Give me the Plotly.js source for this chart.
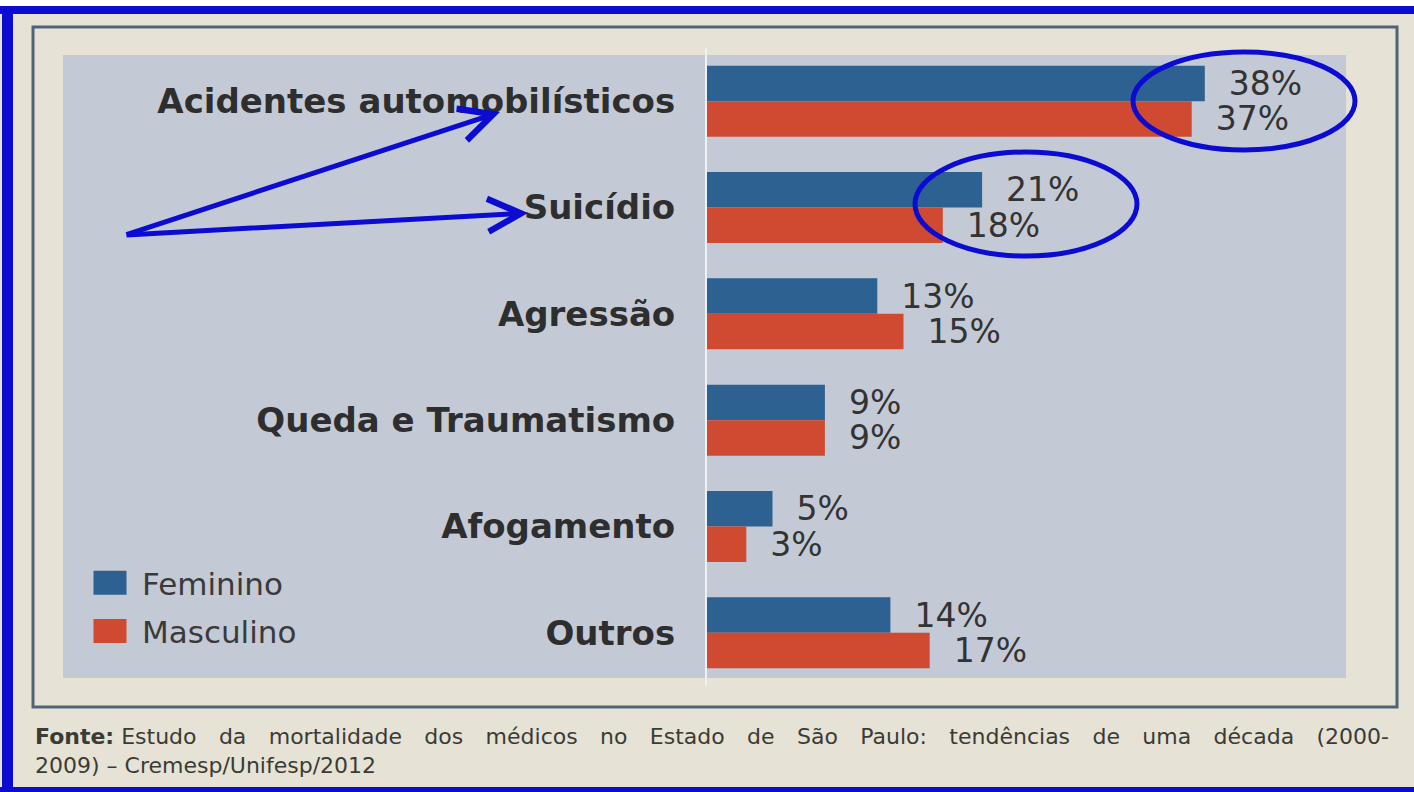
<!DOCTYPE html>
<html>
<head>
<meta charset="utf-8">
<script src="https://cdn.plot.ly/plotly-3.0.1.min.js"></script>
<style>
  html, body { margin: 0; padding: 0; background: #ffffff; }
  #chart { width: 1414px; height: 792px; }
</style>
</head>
<body>
<div id="chart"></div>
<script>
// ---- data ----
const categories = ['Acidentes automobilísticos', 'Suicídio', 'Agressão', 'Queda e Traumatismo', 'Afogamento', 'Outros'];
const feminino = [38, 21, 13, 9, 5, 14];
const masculino = [37, 18, 15, 9, 3, 17];
const seriesNames = ['Feminino', 'Masculino'];
const sourceBold = 'Fonte:';
const sourceLine1 = 'Estudo da mortalidade dos médicos no Estado de São Paulo: tendências de uma década (2000-';
const sourceLine2 = '2009) – Cremesp/Unifesp/2012';

// ---- geometry helpers (pixel -> paper) ----
const W = 1414, H = 792;
const PL = 707, PR = 1345, PT = 48, PB = 686;
const pw = PR - PL, ph = PB - PT;
const px = X => (X - PL) / pw;
const py = Y => (PB - Y) / ph;

const BLUE = '#2d6192';
const RED = '#d04a31';
const MARK = '#0b0bd2';
const FONT = 'DejaVu Sans';
// justified first line: widen word gaps
const GAP = ' \u2002\u2009';

const traces = [
  { type: 'bar', orientation: 'h', name: seriesNames[0], legendgroup: 'f', y: categories, x: feminino,
    marker: { color: BLUE }, texttemplate: '\u00a0\u00a0%{x}%', textposition: 'outside',
    constraintext: 'none', cliponaxis: false,
    textfont: { family: FONT, size: 33, color: '#333333' }, hoverinfo: 'skip' },
  { type: 'bar', orientation: 'h', name: seriesNames[1], legendgroup: 'm', y: categories, x: masculino,
    marker: { color: RED }, texttemplate: '\u00a0\u00a0%{x}%', textposition: 'outside',
    constraintext: 'none', cliponaxis: false,
    textfont: { family: FONT, size: 33, color: '#333333' }, hoverinfo: 'skip' }
];

const shapes = [
  { type: 'rect', xref: 'paper', yref: 'paper', x0: px(0), x1: px(W), y0: py(0), y1: py(6),
    fillcolor: '#ffffff', line: { width: 0 }, layer: 'below' },
  { type: 'rect', xref: 'paper', yref: 'paper', x0: px(63), x1: px(1346), y0: py(55), y1: py(678),
    fillcolor: '#c4cad5', line: { width: 0 }, layer: 'below' },
  { type: 'rect', xref: 'paper', yref: 'paper', x0: px(33), x1: px(1397), y0: py(27), y1: py(707),
    fillcolor: 'rgba(0,0,0,0)', line: { color: '#4f6475', width: 3 }, layer: 'below' },
  { type: 'rect', xref: 'paper', yref: 'paper', x0: px(0), x1: px(W), y0: py(6), y1: py(14),
    fillcolor: MARK, line: { width: 0 }, layer: 'above' },
  { type: 'rect', xref: 'paper', yref: 'paper', x0: px(2), x1: px(13), y0: py(6), y1: py(H),
    fillcolor: MARK, line: { width: 0 }, layer: 'above' },
  { type: 'rect', xref: 'paper', yref: 'paper', x0: px(0), x1: px(W), y0: py(787), y1: py(H),
    fillcolor: MARK, line: { width: 0 }, layer: 'above' },
  { type: 'circle', xref: 'paper', yref: 'paper', x0: px(1133), x1: px(1355), y0: py(52), y1: py(150),
    line: { color: MARK, width: 5 }, layer: 'above' },
  { type: 'circle', xref: 'paper', yref: 'paper', x0: px(915), x1: px(1137), y0: py(152), y1: py(256),
    line: { color: MARK, width: 5 }, layer: 'above' }
];

const annotations = [
  { xref: 'paper', yref: 'paper', x: px(500), y: py(112), ax: 125 - 500, ay: 235 - 112,
    text: '', showarrow: true, arrowhead: 5, arrowsize: 1.3, arrowwidth: 5, arrowcolor: MARK, standoff: 0 },
  { xref: 'paper', yref: 'paper', x: px(528), y: py(213), ax: 125 - 528, ay: 235 - 213,
    text: '', showarrow: true, arrowhead: 5, arrowsize: 1.3, arrowwidth: 5, arrowcolor: MARK, standoff: 0 },
  { xref: 'paper', yref: 'paper', x: px(33), y: py(722), xanchor: 'left', yanchor: 'top', align: 'left',
    showarrow: false,
    text: '<b>' + sourceBold + '</b> ' + sourceLine1.split(' ').join(GAP) + '<br>' + sourceLine2,
    font: { family: FONT, size: 22, color: '#3b3b35' } }
];

const layout = {
  width: W, height: H,
  margin: { l: PL, r: W - PR, t: PT, b: H - PB, pad: 0 },
  paper_bgcolor: '#e6e3d6',
  plot_bgcolor: 'rgba(0,0,0,0)',
  barmode: 'group',
  bargap: 0.332,
  bargroupgap: 0,
  showlegend: true,
  legend: { x: px(78), y: py(556), xanchor: 'left', yanchor: 'top', bgcolor: 'rgba(0,0,0,0)',
    itemwidth: 54, tracegroupgap: 5,
    font: { family: FONT, size: 31, color: '#3a3a3a' } },
  xaxis: { range: [0, pw / 13.1], showgrid: false, zeroline: false, showticklabels: false,
    showline: false, fixedrange: true },
  yaxis: { type: 'category', autorange: 'reversed', showgrid: false, zeroline: false,
    showline: true, linecolor: '#eef0f2', linewidth: 2,
    ticks: 'outside', ticklen: 23, tickcolor: 'rgba(0,0,0,0)',
    tickfont: { family: FONT, size: 34, color: '#2e2e2e', weight: 700 }, fixedrange: true },
  shapes: shapes,
  annotations: annotations,
  hovermode: false
};

Plotly.newPlot('chart', traces, layout, { staticPlot: true, displayModeBar: false }).then(() => {
  document.querySelectorAll('.legendpoints path').forEach(p => {
    p.setAttribute('d', 'M16.5,12H-16.5V-12H16.5Z');
  });
});
</script>
</body>
</html>
